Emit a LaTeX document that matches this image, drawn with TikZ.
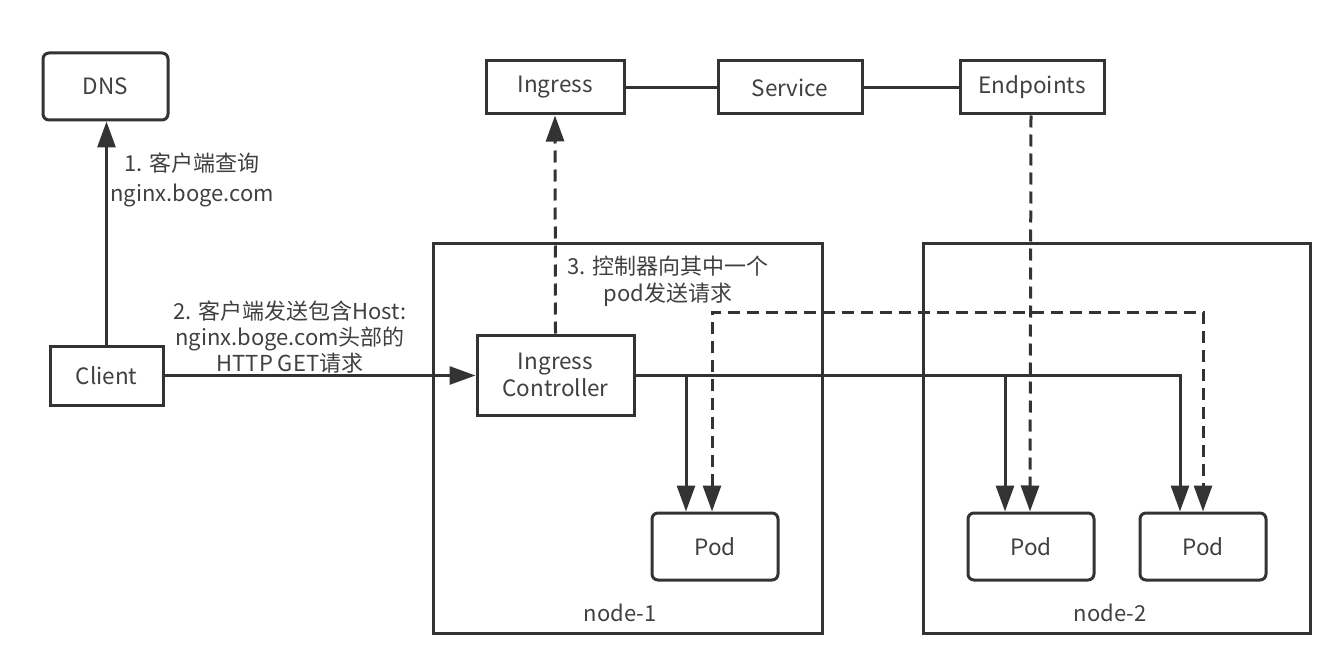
\documentclass[tikz,border=0pt]{standalone}
\usepackage{fontspec}
\setmainfont{Noto Sans CJK SC}
\usetikzlibrary{arrows.meta}
\definecolor{ln}{HTML}{333333}
\definecolor{tx}{HTML}{404040}
\begin{document}
\begin{tikzpicture}[x=1pt,y=-1pt,
  box/.style={draw=ln,line width=3pt,fill=white,text=tx,font=\fontsize{22.5}{27}\selectfont,inner sep=0pt},
  rbox/.style={box,rounded corners=6pt},
  frame/.style={draw=ln,line width=3pt},
  lbl/.style={text=tx,font=\fontsize{22}{29}\selectfont,align=center,inner sep=0pt},
  conn/.style={draw=ln,line width=3pt},
  arr/.style={conn,-{Triangle[length=26pt,width=18pt]}},
  dsh/.style={conn,dash pattern=on 12pt off 7pt},
  darr/.style={dsh,-{Triangle[length=26pt,width=18pt]}},
  ]
\useasboundingbox (0,0) rectangle (1342,666);
% node frames
\draw[frame] (433,243) rectangle (822,633);
\draw[frame] (923,243) rectangle (1310,633);
\node[lbl] (n1) at (620,613) {node-1};
\node[lbl] (n2) at (1110,613) {node-2};
% boxes
\node[rbox,minimum width=125pt,minimum height=67pt] (dns) at (105.5,86.5) {DNS};
\node[box,minimum width=113pt,minimum height=59pt] (cl) at (106.5,375.5) {Client};
\node[box,minimum width=138pt,minimum height=53pt] (ing) at (555,87.5) {Ingress};
\node[box,minimum width=144pt,minimum height=53pt] (svc) at (790,87.5) {Service};
\node[box,minimum width=144pt,minimum height=53pt] (ep) at (1032,87.5) {Endpoints};
\node[box,minimum width=157pt,minimum height=80pt,align=center] (ctrl) at (555.5,375) {Ingress\\Controller};
\node[rbox,minimum width=126pt,minimum height=67pt] (p1) at (715,546.5) {Pod};
\node[rbox,minimum width=126pt,minimum height=67pt] (p2) at (1031,546.5) {Pod};
\node[rbox,minimum width=126pt,minimum height=67pt] (p3) at (1203,546.5) {Pod};
% top links
\draw[conn] (ing) -- (svc);
\draw[conn] (svc) -- (ep);
% client arrows
\draw[arr] (cl.north) -- (cl.north |- dns.south);
\draw[arr] (cl.east) -- (cl.east -| ctrl.west);
% controller to ingress
\draw[darr] (ctrl.north) -- (ing.south);
% endpoints to pod2
\draw[darr] ([xshift=-1pt]ep.south) -- ([xshift=-1pt]p2.north);
% solid distribution
\draw[arr] (ctrl.east) -| ([xshift=-23pt]p3.north);
\draw[arr] ([xshift=-29pt]p1.north |- ctrl.east) -- ([xshift=-29pt]p1.north);
\draw[arr] ([xshift=-26pt]p2.north |- ctrl.east) -- ([xshift=-26pt]p2.north);
% dashed loop
\coordinate (dl) at (0,312);
\draw[dsh,{Triangle[length=26pt,width=18pt]}-{Triangle[length=26pt,width=18pt]}] ([xshift=-3pt]p1.north) |- (p3.north |- dl) -- (p3.north);
% labels
\node[lbl,font=\fontsize{22}{30}\selectfont] (l1) at (192,180) {1. 客户端查询\\nginx.boge.com};
\node[lbl,font=\fontsize{22}{26}\selectfont] (l2) at (290,337) {2. 客户端发送包含Host:\\nginx.boge.com头部的\\HTTP GET请求};
\node[lbl,font=\fontsize{22}{27}\selectfont] (l3) at (668,281) {3. 控制器向其中一个\\pod发送请求};
\end{tikzpicture}
\end{document}
